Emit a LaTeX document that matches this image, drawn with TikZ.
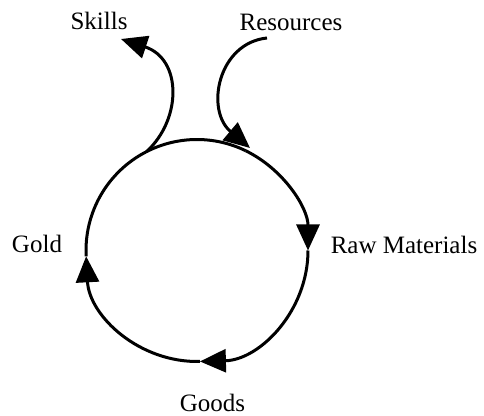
\documentclass[tikz,border=0pt]{standalone}
\usepackage{fontspec}
\setmainfont{Liberation Serif}
\usetikzlibrary{arrows.meta}
\begin{document}
\begin{tikzpicture}[x=1pt,y=1pt,
  flow/.style={line width=3pt,black},
  tip/.style={-{Triangle[length=26pt,width=23pt]}},
  lbl/.style={anchor=base,inner sep=0pt,font=\fontsize{25}{30}\selectfont}]
\useasboundingbox (0,0) rectangle (484,415);
\def\R{111}
\coordinate (C) at (197,164.5);
% labels
\node[lbl] (skills) at (99,385) {Skills};
\node[lbl] (resources) at (291,384) {Resources};
\node[lbl] (raw) at (404,161) {Raw Materials};
\node[lbl] (goods) at (212.5,4) {Goods};
\node[lbl] (gold) at (37,162) {Gold};
% cycle arcs
\draw[flow,tip] (C) ++(64:\R) coordinate (aIn) arc[start angle=64,end angle=0,radius=\R] coordinate (aRaw);
\draw[flow,tip] (aRaw) arc[start angle=0,end angle=-88.5,radius=\R] coordinate (aGoods);
\draw[flow,tip] (aGoods) arc[start angle=-88.5,end angle=-177,radius=\R] coordinate (aGold);
\draw[flow] (aGold) arc[start angle=183,end angle=117,radius=\R] coordinate (aOut)
  arc[start angle=117,end angle=64,radius=\R];
% resources inflow
\coordinate (resStart) at (267,377);
\coordinate (resEnd) at (250,267);
\draw[flow,tip] (resStart) .. controls (218,372) and (205,305) .. (resEnd);
% skills outflow
\coordinate (skTip) at (121,376);
\draw[flow,tip] (aOut) .. controls (182,296) and (182,356) .. (skTip);
\end{tikzpicture}
\end{document}
